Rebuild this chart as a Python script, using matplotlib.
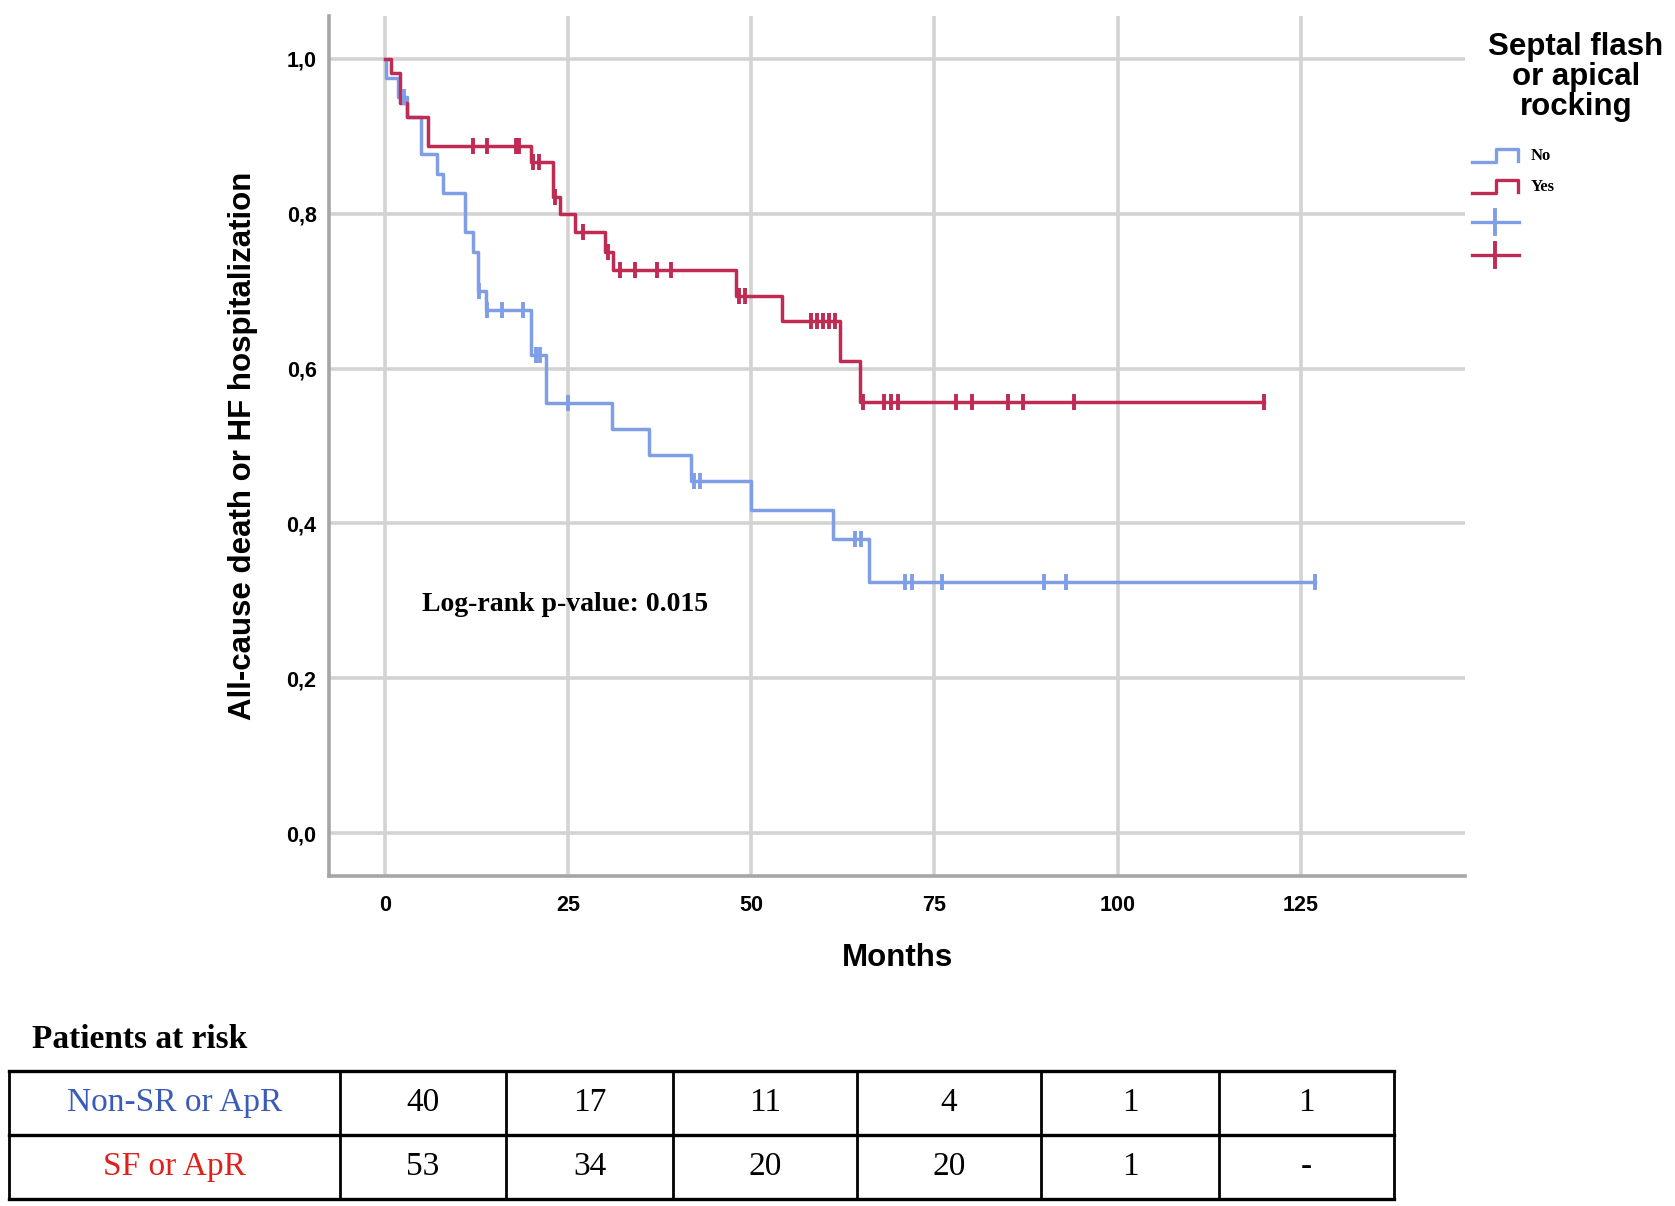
import numpy as np
import matplotlib
matplotlib.use("Agg")
import matplotlib.pyplot as plt
from matplotlib import font_manager as fm

# Kaplan-Meier steps
blue_t = [0, 0.2, 1.8, 3.1, 5.0, 7.1, 8.0, 11.0, 12.1, 12.7, 13.8, 20.0, 22.0, 31.0, 36.0, 41.8, 50.0, 61.1, 66.1]
blue_s = [1.0, 0.975, 0.95, 0.925, 0.877, 0.851, 0.826, 0.776, 0.751, 0.700, 0.676, 0.617, 0.555, 0.522, 0.489, 0.455, 0.417, 0.380, 0.325]
blue_end = 127.0
blue_cens = [2.7, 12.9, 14.0, 16.0, 18.9, 20.6, 21.2, 25.0, 42.2, 43.0, 64.2, 65.0, 71.0, 72.0, 76.0, 90.0, 93.0, 127.0]

red_t = [0, 0.9, 2.05, 3.0, 5.9, 20.0, 23.0, 23.9, 26.0, 30.0, 31.2, 48.0, 54.2, 62.1, 64.9]
red_s = [1.0, 0.981, 0.943, 0.925, 0.887, 0.866, 0.821, 0.800, 0.776, 0.751, 0.727, 0.694, 0.661, 0.610, 0.557]
red_end = 120.0
red_cens = [12.1, 13.9, 17.9, 18.3, 20.3, 21.1, 23.3, 27.0, 30.5, 32.1, 34.2, 37.2, 39.1, 48.3, 49.1,
            58.2, 59.0, 59.8, 60.6, 61.4, 65.2, 68.1, 69.1, 70.1, 78.0, 80.1, 85.0, 87.1, 94.0, 120.0]

x_ticks = [0, 25, 50, 75, 100, 125]
y_ticks = [0.0, 0.2, 0.4, 0.6, 0.8, 1.0]

group_labels = ["No", "Yes"]
risk_rows = ["Non-SR or ApR", "SF or ApR"]
risk_blue = ["40", "17", "11", "4", "1", "1"]
risk_red = ["53", "34", "20", "20", "1", "-"]

BLUE = "#7f9ee6"
RED = "#bf2b52"
W, H = 1675, 1206

fams = {f.name for f in fm.fontManager.ttflist}
sans = "Liberation Sans" if "Liberation Sans" in fams else "DejaVu Sans"
serif = "Liberation Serif" if "Liberation Serif" in fams else "DejaVu Serif"

fig = plt.figure(figsize=(W / 100, H / 100), dpi=100)
ax = fig.add_axes([329 / W, 1 - 876 / H, (1465 - 329) / W, (876 - 16) / H])


def km(ax, t, s, end, cens, color):
    t = np.array(t)
    s = np.array(s)
    ax.step(np.append(t, end), np.append(s, s[-1]), where="post", color=color, lw=2.5, zorder=3)
    c = np.array(cens)
    idx = np.searchsorted(t, c, side="right") - 1
    ax.plot(c, s[idx], ls="none", marker="|", ms=11, mew=2.8, color=color, zorder=4)


km(ax, blue_t, blue_s, blue_end, blue_cens, BLUE)
km(ax, red_t, red_s, red_end, red_cens, RED)

ax.set_xlim(-7.6, 147.4)
ax.set_ylim(-0.055, 1.055)
ax.set_xticks(x_ticks)
ax.set_yticks(y_ticks)
ax.set_xticklabels([str(v) for v in x_ticks], fontfamily=sans, fontweight="bold", fontsize=15.5)
ax.set_yticklabels([f"{v:.1f}".replace(".", ",") for v in y_ticks], fontfamily=sans, fontweight="bold", fontsize=15.5)
ax.tick_params(length=0)
ax.tick_params(axis="x", pad=14)
ax.tick_params(axis="y", pad=9)
ax.grid(True, color="#d3d3d3", lw=2.6, zorder=0)
for side in ["top", "right"]:
    ax.spines[side].set_visible(False)
for side in ["left", "bottom"]:
    ax.spines[side].set_color("#a6a6a6")
    ax.spines[side].set_linewidth(2.6)

ax.set_ylabel("All-cause death or HF hospitalization", fontfamily=sans, fontweight="bold", fontsize=22.5)
ax.yaxis.set_label_coords(-0.0757, 0.5)
ax.yaxis.label.set_va("center")
ax.set_xlabel("Months", fontfamily=sans, fontweight="bold", fontsize=22.5)
ax.xaxis.set_label_coords(0.5, -0.0953)
ax.xaxis.label.set_va("center")

ax.text(5.1, 0.296, "Log-rank p-value: 0.015", fontfamily=serif, fontweight="bold", fontsize=20, va="center", ha="left")

# overlay in pixel units for legend and risk table
ov = fig.add_axes([0, 0, 1, 1], facecolor="none")
ov.set_xlim(0, W)
ov.set_ylim(H, 0)
ov.axis("off")

ov.text(1576, 77, "Septal flash\nor apical\nrocking", ha="center", va="center", fontfamily=sans,
        fontweight="bold", fontsize=22.5, linespacing=1.0)
for color, label, y0 in zip([BLUE, RED], group_labels, [162, 193]):
    ov.plot([1472, 1496, 1496, 1518, 1518], [y0, y0, y0 - 13, y0 - 13, y0 - 1], color=color, lw=2.4)
    ov.text(1531, y0 - 6, label, fontfamily=serif, fontweight="bold", fontsize=12, va="center", ha="left")
for color, y0 in zip([BLUE, RED], [222, 255]):
    ov.plot([1472, 1519], [y0, y0], color=color, lw=2.4)
    ov.plot([1495, 1495], [y0 - 12, y0 + 12], color=color, lw=2.8)

ov.text(32, 1039, "Patients at risk", fontfamily=serif, fontweight="bold", fontsize=24, va="center", ha="left")
cols = [8.5, 340, 506, 673, 857, 1041, 1219, 1394]
rows = [1071, 1135, 1199]
for y in rows:
    ov.plot([cols[0], cols[-1]], [y, y], color="black", lw=2.4, solid_capstyle="projecting")
for x in cols:
    ov.plot([x, x], [rows[0], rows[-1]], color="black", lw=2.0)
for r, (name, vals, color) in enumerate(zip(risk_rows, [risk_blue, risk_red], ["#3a5cb8", "#e0201c"])):
    yc = (rows[r] + rows[r + 1]) / 2
    ov.text((cols[0] + cols[1]) / 2, yc, name, color=color, fontfamily=serif, fontsize=24, ha="center", va="center")
    for j, v in enumerate(vals):
        ov.text((cols[j + 1] + cols[j + 2]) / 2, yc, v, fontfamily=serif, fontsize=24, ha="center", va="center")

fig.savefig("out.png", dpi=100)
